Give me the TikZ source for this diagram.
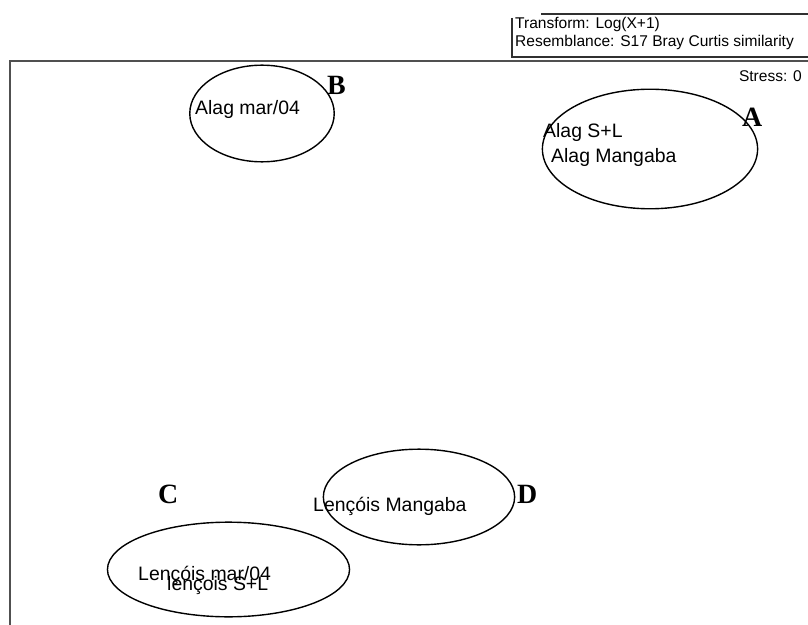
\documentclass[tikz,border=0pt]{standalone}
\usepackage{fontspec}
\setmainfont{Liberation Serif}
\setsansfont{Liberation Sans}
\usepackage{tikz}
\usetikzlibrary{shapes.geometric}
\definecolor{framegray}{HTML}{505050}
\definecolor{legendgray}{HTML}{303030}
\begin{document}
\begin{tikzpicture}[x=1bp,y=-1bp, every node/.style={inner sep=0pt},
  grp/.style={draw=black,ellipse,line width=1.4bp,inner sep=0pt},
  site/.style={font=\sffamily\fontsize{19.5}{22}\selectfont,anchor=base west},
  note/.style={font=\sffamily\fontsize{15.6}{18}\selectfont,anchor=base west},
  tag/.style={font=\bfseries\fontsize{28}{30}\selectfont,anchor=base west}]
\useasboundingbox (0,0) rectangle (808,625);
\draw[framegray,line width=2bp] (10,626) -- (10,61) -- (809,61);
\draw[legendgray,line width=1.3bp] (541,14) -- (809,14);
\draw[legendgray,line width=1.3bp] (512,18) -- (512,57) -- (809,57);
\node[note] (trans) at (515,29) {Transform: Log(X+1)};
\node[note] (resem) at (515,47) {Resemblance: S17 Bray Curtis similarity};
\node[note,anchor=base east] (stress) at (802,82) {Stress: 0};
\node[grp,minimum width=145,minimum height=97] (grpB) at (262,113.5) {};
\node[grp,minimum width=216,minimum height=120] (grpA) at (650,149) {};
\node[grp,minimum width=243,minimum height=95] (grpC) at (228.5,569.5) {};
\node[grp,minimum width=192,minimum height=96] (grpD) at (419,497) {};
\node[site] (alagmar) at (195,115) {Alag mar/04};
\node[site] (alagsl) at (543,138) {Alag S+L};
\node[site] (alagman) at (551,163) {Alag Mangaba};
\node[site] (lencmar) at (138,580) {Lençóis mar/04};
\node[site] (lencsl) at (167,590) {lençois S+L};
\node[site] (lencman) at (313,511.5) {Lençóis Mangaba};
\node[tag] (tagA) at (742,127) {A};
\node[tag] (tagB) at (327,95) {B};
\node[tag] (tagC) at (158,503) {C};
\node[tag] (tagD) at (517,503) {D};
\end{tikzpicture}
\end{document}
